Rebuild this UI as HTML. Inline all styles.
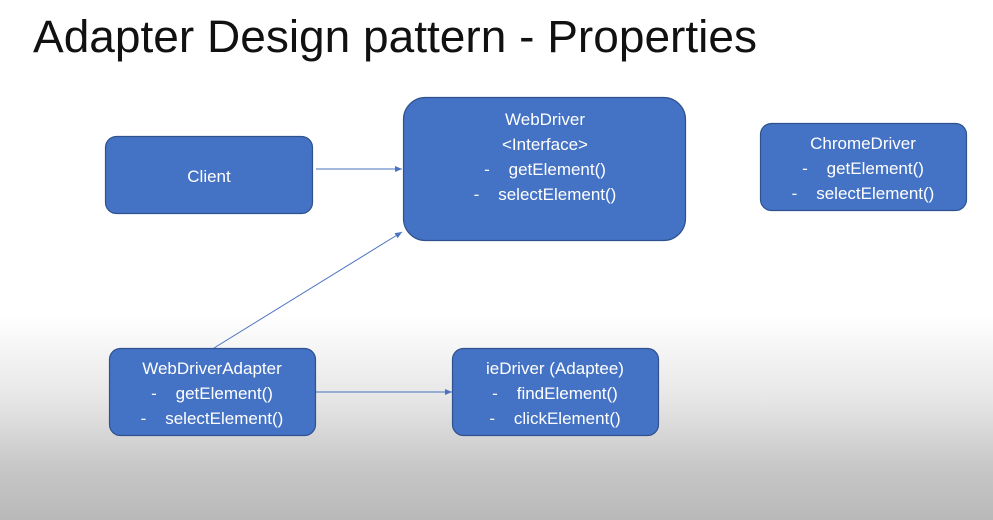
<!DOCTYPE html>
<html><head><meta charset="utf-8"><style>
html,body{margin:0;padding:0}
body{width:993px;height:520px;overflow:hidden;background:linear-gradient(to bottom,#fff 0,#fff 315px,#e6e6e6 400px,#c6c6c6 470px,#b9b9b9 520px)}
svg{display:block}
text{font-family:"Liberation Sans",sans-serif}
</style></head><body>
<svg width="993" height="520" viewBox="0 0 993 520" xmlns="http://www.w3.org/2000/svg">
<defs><marker id="a" markerWidth="8" markerHeight="8" refX="7" refY="4" orient="auto" markerUnits="userSpaceOnUse"><path d="M0,1 L7,4 L0,7 z" fill="#4a72c0"/></marker></defs>
<text x="33" y="52" font-size="45" fill="#111" textLength="724" lengthAdjust="spacingAndGlyphs">Adapter Design pattern - Properties</text>
<g stroke="#4a72c0" stroke-width="1" fill="none">
<line x1="316" y1="169" x2="402" y2="169" marker-end="url(#a)"/>
<line x1="214" y1="348" x2="402" y2="232" marker-end="url(#a)"/>
<line x1="316" y1="392" x2="452" y2="392" marker-end="url(#a)"/>
</g>
<g fill="#4472c4" stroke="#2f528f" stroke-width="1.2">
<rect x="105.5" y="136.5" width="207" height="77" rx="11"/>
<rect x="403.5" y="97.5" width="282" height="143" rx="22"/>
<rect x="760.5" y="123.5" width="206" height="87" rx="11"/>
<rect x="109.5" y="348.5" width="206" height="87" rx="11"/>
<rect x="452.5" y="348.5" width="206" height="87" rx="11"/>
</g>
<g fill="#fff" font-size="17" text-anchor="middle">
<text x="209" y="182">Client</text>
<text x="545" y="125">WebDriver</text>
<text x="545" y="150">&lt;Interface&gt;</text>
<text x="545" y="175" xml:space="preserve">-    getElement()</text>
<text x="545" y="200" xml:space="preserve">-    selectElement()</text>
<text x="863" y="149">ChromeDriver</text>
<text x="863" y="174" xml:space="preserve">-    getElement()</text>
<text x="863" y="199" xml:space="preserve">-    selectElement()</text>
<text x="212" y="374">WebDriverAdapter</text>
<text x="212" y="399" xml:space="preserve">-    getElement()</text>
<text x="212" y="424" xml:space="preserve">-    selectElement()</text>
<text x="555" y="374">ieDriver (Adaptee)</text>
<text x="555" y="399" xml:space="preserve">-    findElement()</text>
<text x="555" y="424" xml:space="preserve">-    clickElement()</text>
</g>
</svg>
</body></html>
